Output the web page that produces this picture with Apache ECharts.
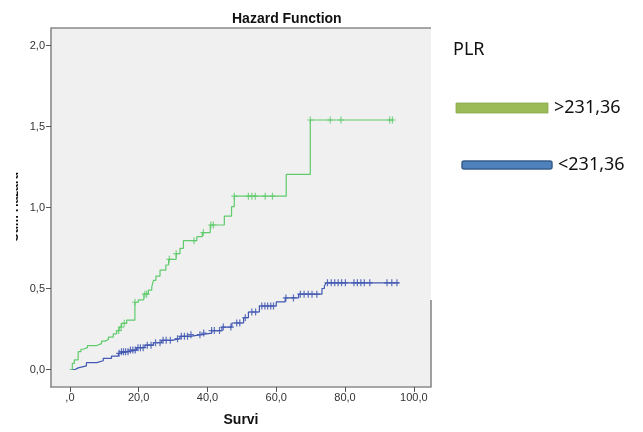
<!DOCTYPE html>
<html>
<head>
<meta charset="utf-8">
<script src="https://cdn.jsdelivr.net/npm/echarts@6/dist/echarts.min.js"></script>
<style>
  html, body { margin: 0; padding: 0; background: #ffffff; }
  #chart { width: 643px; height: 432px; }
</style>
</head>
<body>
<div id="chart"></div>
<script>
// Cumulative hazard by PLR group: event times and the hazard level reached at each time
const highTimes  = [0, 0.7, 1.3, 2.4, 3.2, 3.9, 5.1, 7.8, 9.2, 10.2, 11.2, 12.6, 13.6, 14.3, 15.0, 16.5, 18.9, 19.9, 21.5, 22.8, 23.8, 24.3, 25.0, 26.2, 27.9, 28.7, 30.9, 32.0, 33.0, 36.9, 38.5, 40.8, 44.9, 47.0, 47.8, 62.9, 69.9, 94.1];
const highHazard = [0, 0.038, 0.059, 0.110, 0.125, 0.135, 0.148, 0.160, 0.175, 0.185, 0.200, 0.220, 0.240, 0.262, 0.285, 0.305, 0.415, 0.430, 0.465, 0.490, 0.510, 0.550, 0.577, 0.614, 0.645, 0.680, 0.715, 0.748, 0.795, 0.820, 0.845, 0.892, 0.947, 1.005, 1.070, 1.205, 1.540, 1.540];
const highCensored = [14.2, 14.9, 15.8, 18.9, 21.8, 22.3, 28.9, 30.9, 36.1, 38.8, 41.0, 41.7, 47.8, 51.9, 52.9, 53.9, 56.8, 58.9, 69.9, 75.7, 78.8, 93.0, 93.8];

const lowTimes  = [0, 1.5, 2.4, 4.8, 7.8, 9.7, 12.1, 14.1, 14.6, 17.0, 19.4, 21.8, 24.3, 26.7, 29.6, 32.0, 34.9, 38.3, 41.2, 44.2, 47.1, 50.5, 51.9, 55.1, 60.0, 62.6, 66.5, 73.3, 74.0, 74.5, 95.6];
const lowHazard = [0, 0.010, 0.022, 0.042, 0.054, 0.069, 0.083, 0.100, 0.110, 0.120, 0.135, 0.150, 0.165, 0.180, 0.190, 0.205, 0.215, 0.225, 0.240, 0.262, 0.287, 0.320, 0.355, 0.392, 0.417, 0.442, 0.465, 0.500, 0.515, 0.535, 0.535];
const lowCensored = [14.3, 15.0, 15.6, 16.2, 16.9, 17.6, 18.3, 19.0, 19.8, 20.5, 21.3, 22.5, 23.6, 24.9, 26.2, 27.1, 28.0, 29.2, 31.3, 32.4, 33.3, 34.2, 35.2, 37.8, 38.9, 41.2, 42.0, 43.5, 44.6, 46.8, 48.5, 49.4, 51.0, 52.9, 54.0, 55.8, 56.7, 57.5, 58.4, 59.2, 62.8, 65.0, 67.0, 68.1, 69.3, 70.4, 71.8, 74.9, 76.0, 77.0, 78.0, 79.0, 80.1, 82.6, 83.6, 84.6, 85.6, 87.2, 92.2, 93.6, 95.1];

const xTicks = [0, 20, 40, 60, 80, 100];
const xTickLabels = [',0', '20,0', '40,0', '60,0', '80,0', '100,0'];
const yTicks = [0, 0.5, 1, 1.5, 2];
const yTickLabels = ['0,0', '0,5', '1,0', '1,5', '2,0'];

const groupNames = ['>231,36', '<231,36'];
const titleText = 'Hazard Function';
const xTitle = 'Survi';
const yTitle = 'Cum Hazard';
const legendTitle = 'PLR';

// Hazard level in effect at time t (right-continuous step)
function levelAt(times, hz, t) {
  let v = hz[0];
  for (let i = 0; i < times.length; i++) {
    if (times[i] <= t + 1e-9) v = hz[i];
  }
  return v;
}

const stepData = (times, hz) => times.map((t, i) => [t, hz[i]]);
const censorData = (cens, times, hz) => cens.map(t => [t, levelAt(times, hz, t)]);

const GREEN = '#5fcb6c';
const BLUE = '#4258b2';
const plusPath = 'path://M24,0 L36,0 L36,29 L60,29 L60,41 L36,41 L36,70 L24,70 L24,41 L0,41 L0,29 L24,29 Z';

const chart = echarts.init(document.getElementById('chart'), null, { renderer: 'canvas' });

const tickLabel = (vals, labels) => v => {
  const i = vals.findIndex(x => Math.abs(x - v) < 1e-9);
  return i >= 0 ? labels[i] : '';
};

chart.setOption({
  animation: false,
  backgroundColor: '#ffffff',
  title: {
    text: titleText,
    left: 227,
    top: 7,
    textStyle: { fontFamily: 'Liberation Sans', fontWeight: 'bold', fontSize: 14, color: '#111' }
  },
  grid: {
    left: 51, top: 28, right: 212, bottom: 45,
    outerBoundsMode: 'none',
    containLabel: false,
    show: true, backgroundColor: '#f0f0f0', borderWidth: 0
  },
  xAxis: {
    type: 'value',
    min: -5.5, max: 105,
    name: xTitle,
    nameLocation: 'middle',
    nameGap: 26,
    nameMoveOverlap: false,
    nameTextStyle: { fontFamily: 'Liberation Sans', fontWeight: 'bold', fontSize: 14, color: '#111' },
    axisLine: { show: true, onZero: false, lineStyle: { color: '#8a8a8a', width: 1.6 } },
    axisTick: { show: true, customValues: xTicks, length: 5, lineStyle: { color: '#555', width: 1 } },
    axisLabel: {
      customValues: xTicks, margin: 5,
      formatter: tickLabel(xTicks, xTickLabels),
      fontFamily: 'Liberation Sans', fontSize: 11, color: '#333'
    },
    splitLine: { show: false }
  },
  yAxis: {
    type: 'value',
    min: -0.108, max: 2.108,
    axisLine: { show: true, onZero: false, lineStyle: { color: '#8a8a8a', width: 1.6 } },
    axisTick: { show: true, customValues: yTicks, length: 5, lineStyle: { color: '#555', width: 1 } },
    axisLabel: {
      customValues: yTicks, margin: 6,
      formatter: tickLabel(yTicks, yTickLabels),
      fontFamily: 'Liberation Sans', fontSize: 11, color: '#333'
    },
    splitLine: { show: false }
  },
  series: [
    {
      name: groupNames[1], type: 'line', step: 'end', showSymbol: false,
      data: stepData(lowTimes, lowHazard),
      lineStyle: { color: BLUE, width: 1.2 }, z: 3
    },
    {
      name: groupNames[1] + ' censored', type: 'scatter',
      symbol: plusPath, symbolSize: [6, 7],
      data: censorData(lowCensored, lowTimes, lowHazard),
      itemStyle: { color: BLUE, opacity: 0.85 }, z: 4
    },
    {
      name: groupNames[0], type: 'line', step: 'end', showSymbol: false,
      data: stepData(highTimes, highHazard),
      lineStyle: { color: GREEN, width: 1.2 }, z: 5
    },
    {
      name: groupNames[0] + ' censored', type: 'scatter',
      symbol: plusPath, symbolSize: [6, 7],
      data: censorData(highCensored, highTimes, highHazard),
      itemStyle: { color: GREEN }, z: 6
    }
  ],
  graphic: [
    // plot frame: top edge and the visible lower part of the right edge
    { type: 'line', shape: { x1: 51, y1: 28, x2: 431, y2: 28 }, style: { stroke: '#8a8a8a', lineWidth: 1.6 }, z: 10 },
    { type: 'line', shape: { x1: 431, y1: 300, x2: 431, y2: 387 }, style: { stroke: '#8a8a8a', lineWidth: 1.6 }, z: 10 },
    // vertical axis title, mostly clipped by the white panel to its left
    { type: 'text', x: 21, y: 207, rotation: Math.PI / 2,
      style: { text: yTitle, fontFamily: 'Liberation Sans', fontWeight: 'bold', fontSize: 12, fill: '#111', textAlign: 'center', textVerticalAlign: 'bottom' }, z: 50 },
    { type: 'rect', shape: { x: 0, y: 140, width: 16, height: 140 }, style: { fill: '#ffffff' }, z: 100 },
    // group key
    { type: 'text', x: 453, y: 50, style: { text: legendTitle, fontFamily: 'Noto Sans', fontSize: 18, fill: '#111', textVerticalAlign: 'middle' }, z: 20 },
    { type: 'rect', shape: { x: 456, y: 103, width: 92, height: 10 }, style: { fill: '#9bbb59', stroke: '#8aa94c', lineWidth: 0.8 }, z: 20 },
    { type: 'text', x: 554, y: 108, style: { text: groupNames[0], fontFamily: 'Noto Sans', fontSize: 18, fill: '#111', textVerticalAlign: 'middle' }, z: 20 },
    { type: 'rect', shape: { x: 462, y: 161, width: 90, height: 8, r: 2 }, style: { fill: '#4f81bd', stroke: '#385d8a', lineWidth: 1.5 }, z: 20 },
    { type: 'text', x: 558, y: 165, style: { text: groupNames[1], fontFamily: 'Noto Sans', fontSize: 18, fill: '#111', textVerticalAlign: 'middle' }, z: 20 }
  ]
});
</script>
</body>
</html>
